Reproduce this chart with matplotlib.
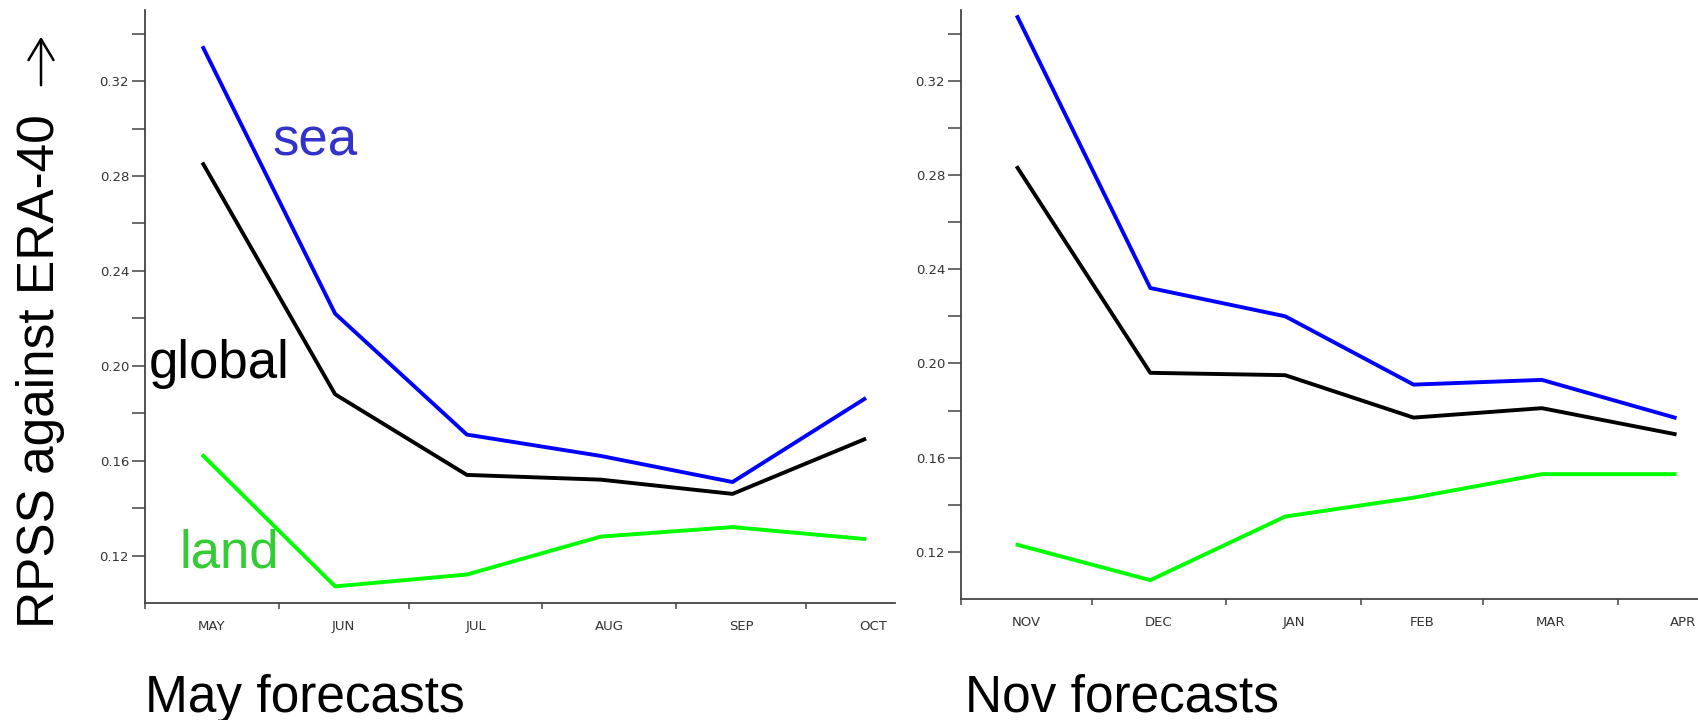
import numpy as np
import matplotlib
matplotlib.use("Agg")
import matplotlib.pyplot as plt

# monthly RPSS against ERA-40
may_months = ["MAY", "JUN", "JUL", "AUG", "SEP", "OCT"]
may_days = [31, 30, 31, 31, 30, 31]
may_sea = [0.334, 0.222, 0.171, 0.162, 0.151, 0.186]
may_global = [0.285, 0.188, 0.154, 0.152, 0.146, 0.169]
may_land = [0.162, 0.107, 0.112, 0.128, 0.132, 0.127]

nov_months = ["NOV", "DEC", "JAN", "FEB", "MAR", "APR"]
nov_days = [30, 31, 31, 28, 31, 30]
nov_sea = [0.347, 0.232, 0.220, 0.191, 0.193, 0.177]
nov_global = [0.283, 0.196, 0.195, 0.177, 0.181, 0.170]
nov_land = [0.123, 0.108, 0.135, 0.143, 0.153, 0.153]

y_major = [0.12, 0.16, 0.20, 0.24, 0.28, 0.32]
y_minor = [0.14, 0.18, 0.22, 0.26, 0.30, 0.34]

FAM = ["Liberation Sans", "DejaVu Sans"]
AX_COL = "#444444"


def panel(ax, months, days, sea, glob, land, xmax):
    starts = np.concatenate([[0], np.cumsum(days)[:-1]])
    mids = starts + np.array(days) / 2.0
    xs = mids - 2.0
    ax.plot(xs, sea, color="#0000ff", lw=2.8)
    ax.plot(xs, glob, color="black", lw=2.8)
    ax.plot(xs, land, color="#00ff00", lw=2.8)

    for s in ["top", "right"]:
        ax.spines[s].set_visible(False)
    for s in ["left", "bottom"]:
        ax.spines[s].set_color(AX_COL)
        ax.spines[s].set_linewidth(1.3)

    ax.set_xticks(starts)
    ax.set_xticklabels([])
    ax.set_xticks(mids, minor=True)
    ax.set_xticklabels(months, minor=True)
    ax.tick_params(axis="x", which="major", direction="out", length=4.5,
                   width=1.1, color=AX_COL)
    ax.tick_params(axis="x", which="minor", length=0, pad=12.5,
                   labelsize=9.5, labelcolor="#333333")

    ax.set_yticks(y_major)
    ax.set_yticklabels(["%.2f" % v for v in y_major])
    ax.set_yticks(y_minor, minor=True)
    ax.tick_params(axis="y", which="both", direction="out", length=9.5,
                   width=1.1, color=AX_COL, pad=2, labelsize=9.5,
                   labelcolor="#333333")

    ax.set_xlim(0, xmax)
    ax.set_ylim(0.10, 0.35)


fig = plt.figure(figsize=(16.99, 7.2), dpi=100)
ax1 = fig.add_axes([145 / 1699, 1 - 603 / 720, 750 / 1699, 593 / 720])
ax2 = fig.add_axes([961 / 1699, 1 - 599 / 720, 738 / 1699, 589 / 720])

panel(ax1, may_months, may_days, may_sea, may_global, may_land, 173.6)
panel(ax2, nov_months, nov_days, nov_sea, nov_global, nov_land, 169.6)

fig.text(272 / 1699, 1 - 155 / 720, "sea", color="#3333cc", fontsize=38,
         family=FAM, ha="left", va="baseline")
fig.text(149 / 1699, 1 - 378 / 720, "global", color="black", fontsize=38,
         family=FAM, ha="left", va="baseline")
fig.text(180 / 1699, 1 - 567 / 720, "land", color="#33cc33", fontsize=38,
         family=FAM, ha="left", va="baseline")

fig.text(145 / 1699, 1 - 712 / 720, "May forecasts", fontsize=37,
         family=FAM, ha="left", va="baseline")
fig.text(965 / 1699, 1 - 712 / 720, "Nov forecasts", fontsize=37,
         family=FAM, ha="left", va="baseline")

fig.text(41 / 1699, 1 - 628 / 720, "RPSS against ERA-40", fontsize=37,
         family=FAM, rotation=90, ha="center", va="bottom")
# the arrow after the label, drawn thin like the typographic one
fig.add_artist(matplotlib.patches.FancyArrowPatch(
    (41 / 1699, 1 - 88 / 720), (41 / 1699, 1 - 34 / 720),
    transform=fig.transFigure, arrowstyle="->,head_length=0.5,head_width=0.3",
    mutation_scale=30, lw=1.8, color="black"))

fig.savefig("out.png", dpi=100)
